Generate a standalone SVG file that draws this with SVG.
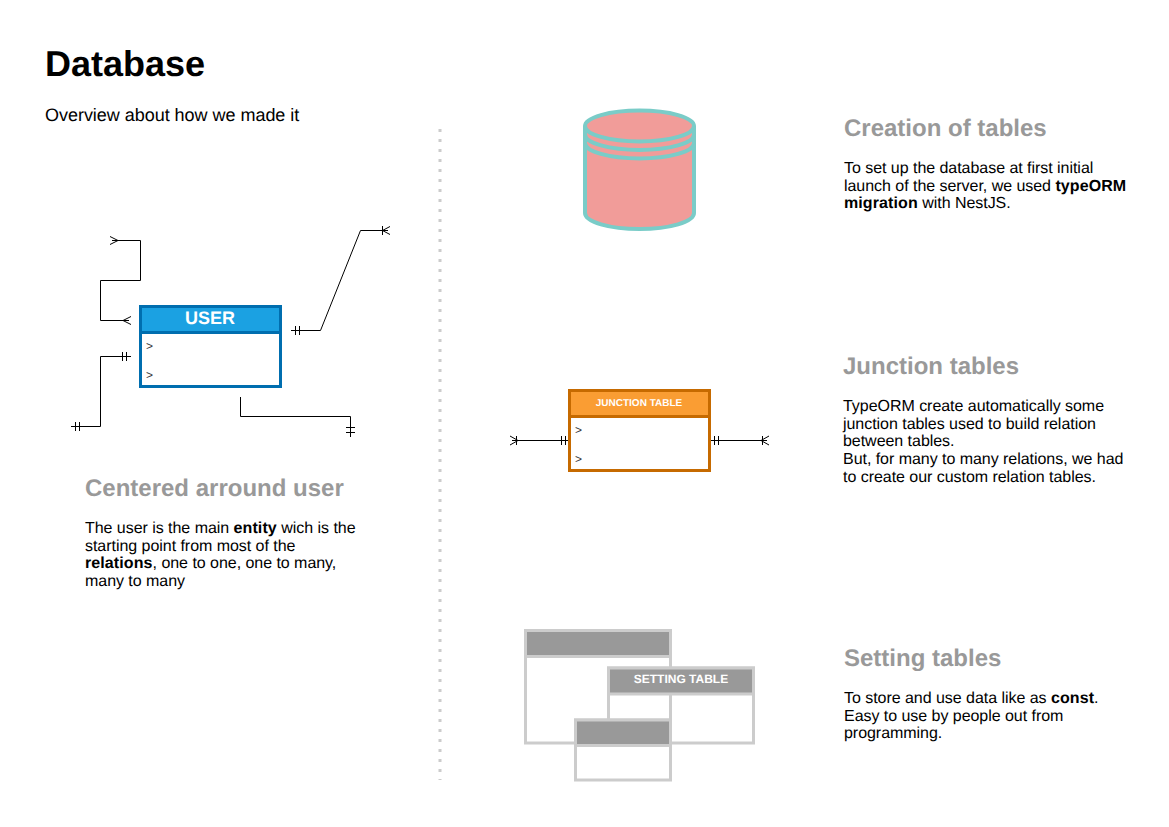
<svg xmlns="http://www.w3.org/2000/svg" width="1169" height="827" viewBox="0 0 1169 827">
<style>
text{font-family:"Liberation Sans",Arial,sans-serif;text-rendering:geometricPrecision}
.title{font-size:36px;font-weight:bold;fill:#000}
.sub{font-size:18px;fill:#000;letter-spacing:-.03px}
.h{font-size:24px;font-weight:bold;fill:#999}
.b{font-size:16px;fill:#000;letter-spacing:-.04px}
.b tspan.s{font-weight:bold;letter-spacing:.1px}
.c{fill:none;stroke:#000;stroke-width:1}
.m{font-size:12px;fill:#333}
.gb{fill:#fff;stroke:#ccc;stroke-width:3}
.gh{fill:#999;stroke:#ccc;stroke-width:3}
.nb{fill:none;stroke:#ccc;stroke-width:3}
</style>
<rect width="1169" height="827" fill="#fff"/>
<text class="title" x="45" y="76">Database</text>
<text class="sub" x="45" y="121">Overview about how we made it</text>
<line x1="440" y1="129" x2="440" y2="780" stroke="#ccc" stroke-width="3" stroke-dasharray="3 7"/>

<g id="connectors">
<path class="c" d="M112 240.500H140.500V280.500H100.500V320.500H129M110 236.500L118 240.500L110 244.500M123 320.500L131 316.500M123 320.500L131 324.500"/>
<path class="c" d="M291 330.500H320.500L360.500 230.500H388M295.500 326V335M299.500 326V335M382.500 226V235M382.500 230.500L390 226.500M382.500 230.500L390 234.500"/>
<path class="c" d="M131 356.500H100.500V426.500H71M122.500 352V361M126.500 352V361M75.500 422V431M79.500 422V431"/>
<path class="c" d="M240.500 397V416.500H350.500V437M346 427.500H355M346 432.500H355"/>
<path class="c" d="M512 440.500H568M510 436L518 440.500L510 445M516.500 436V445M561.500 436V445M565.500 436V445"/>
<path class="c" d="M710 440.500H767M714.500 436V445M718.500 436V445M761 440.500L769 436M761 440.500L769 445M762.500 436V445"/>
</g>

<g id="user">
<rect x="140.500" y="306.500" width="140" height="80" fill="#fff" stroke="#006eaf" stroke-width="3"/>
<rect x="140.500" y="306.500" width="140" height="26" fill="#1ba1e2" stroke="#006eaf" stroke-width="3"/>
<text x="210" y="324" text-anchor="middle" font-size="18" font-weight="bold" fill="#fff">USER</text>
<text class="m" x="146" y="350">&gt;</text>
<text class="m" x="146" y="379">&gt;</text>
</g>

<g id="junction">
<rect x="569.500" y="390.500" width="140" height="80" fill="#fff" stroke="#c66a00" stroke-width="3"/>
<rect x="569.500" y="390.500" width="140" height="26" fill="#fa9d33" stroke="#c66a00" stroke-width="3"/>
<text x="639" y="406" text-anchor="middle" font-size="10" font-weight="bold" fill="#fff">JUNCTION TABLE</text>
<text class="m" x="575" y="434">&gt;</text>
<text class="m" x="575" y="463">&gt;</text>
</g>

<g id="database">
<path d="M585 126A54.500 15.500 0 0 1 694 126V213A54.500 16 0 0 1 585 213Z" fill="#f19c99" stroke="#7accc8" stroke-width="4"/>
<path d="M585 126A54.500 15.500 0 0 0 694 126M585 134.500A54.500 15.500 0 0 0 694 134.500M585 143A54.500 15.500 0 0 0 694 143" fill="none" stroke="#7accc8" stroke-width="4"/>
</g>

<g id="settings">
<rect class="gb" x="525.500" y="630.500" width="145" height="112.500"/>
<rect class="gh" x="525.500" y="630.500" width="145" height="26"/>
<rect class="nb" x="608.500" y="668" width="145" height="75"/>
<rect class="gh" x="608.500" y="668" width="145" height="26"/>
<text x="681" y="683" text-anchor="middle" font-size="12" font-weight="bold" fill="#fff">SETTING TABLE</text>
<rect class="gb" x="575.500" y="720" width="95" height="60"/>
<rect class="gh" x="575.500" y="720" width="95" height="25.500"/>
</g>

<g id="text-user">
<text class="h" x="85" y="496">Centered arround user</text>
<text class="b" x="85" y="533">The user is the main <tspan class="s">entity</tspan> wich is the</text>
<text class="b" x="85" y="551">starting point from most of the</text>
<text class="b" x="85" y="568"><tspan class="s">relations</tspan>, one to one, one to many,</text>
<text class="b" x="85" y="586">many to many</text>
</g>
<g id="text-creation">
<text class="h" x="844" y="136">Creation of tables</text>
<text class="b" x="844" y="173">To set up the database at first initial</text>
<text class="b" x="844" y="191">launch of the server, we used <tspan class="s">typeORM</tspan></text>
<text class="b" x="844" y="208"><tspan class="s">migration</tspan> with NestJS.</text>
</g>
<g id="text-junction">
<text class="h" x="843" y="374">Junction tables</text>
<text class="b" x="843" y="411">TypeORM create automatically some</text>
<text class="b" x="843" y="429">junction tables used to build relation</text>
<text class="b" x="843" y="446">between tables.</text>
<text class="b" x="843" y="464">But, for many to many relations, we had</text>
<text class="b" x="843" y="482">to create our custom relation tables.</text>
</g>
<g id="text-setting">
<text class="h" x="844" y="666">Setting tables</text>
<text class="b" x="844" y="703">To store and use data like as <tspan class="s">const</tspan>.</text>
<text class="b" x="844" y="721">Easy to use by people out from</text>
<text class="b" x="844" y="738">programming.</text>
</g>
</svg>
